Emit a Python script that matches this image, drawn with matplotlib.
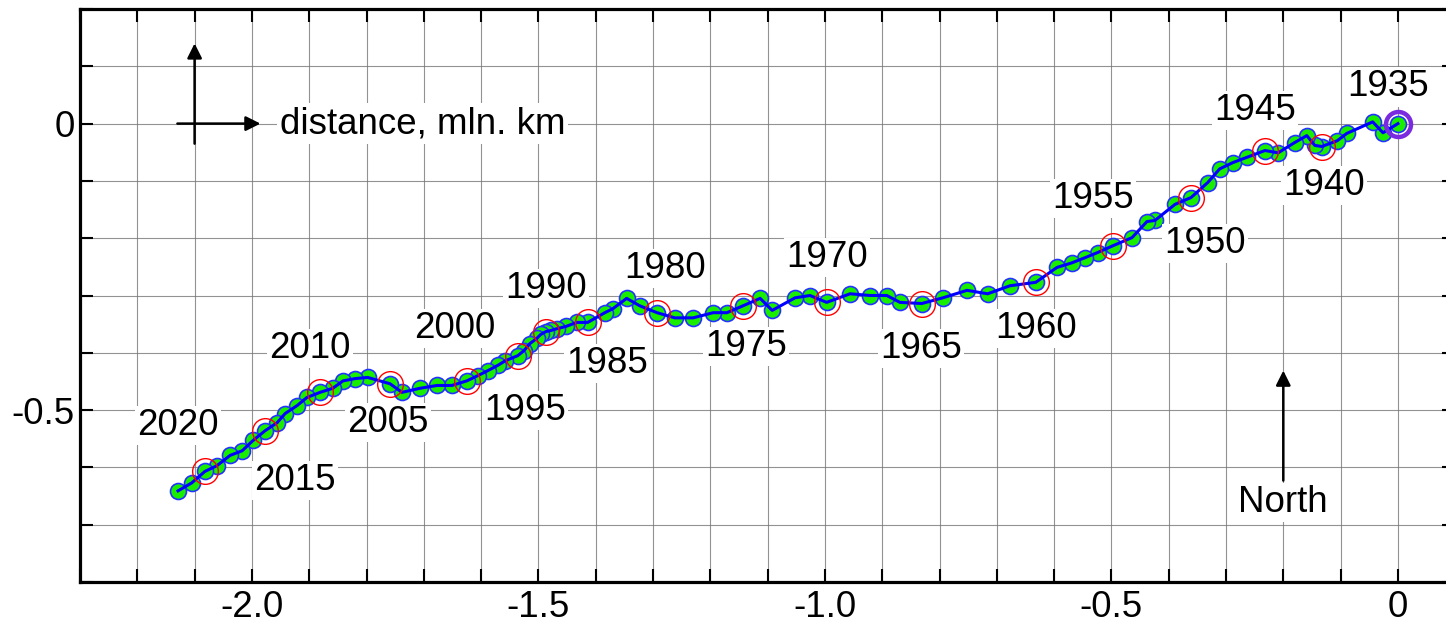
import matplotlib
matplotlib.use("Agg")
import matplotlib.pyplot as plt
import numpy as np

plt.rcParams['font.family'] = ['Liberation Sans', 'DejaVu Sans']

############ data: yearly position, mln. km ############
years = list(range(1935, 2023))
xpos = [0.000, -0.026, -0.044, -0.089, -0.106,
        -0.133, -0.145, -0.159, -0.180, -0.209,
        -0.232, -0.264, -0.288, -0.311, -0.332,
        -0.361, -0.389, -0.424, -0.438, -0.464,
        -0.497, -0.524, -0.546, -0.569, -0.595,
        -0.632, -0.677, -0.716, -0.752, -0.794,
        -0.831, -0.869, -0.892, -0.921, -0.956,
        -0.997, -1.026, -1.052, -1.092, -1.113,
        -1.143, -1.171, -1.195, -1.230, -1.262,
        -1.293, -1.323, -1.346, -1.370, -1.384,
        -1.414, -1.433, -1.452, -1.468, -1.478,
        -1.487, -1.496, -1.503, -1.515, -1.525,
        -1.536, -1.558, -1.571, -1.588, -1.606,
        -1.625, -1.651, -1.677, -1.707, -1.738,
        -1.759, -1.798, -1.820, -1.841, -1.859,
        -1.881, -1.904, -1.921, -1.942, -1.956,
        -1.977, -1.998, -2.017, -2.038, -2.061,
        -2.082, -2.105, -2.129]
ypos = [0.000, -0.016, 0.003, -0.017, -0.030,
        -0.040, -0.038, -0.021, -0.033, -0.051,
        -0.047, -0.059, -0.068, -0.079, -0.103,
        -0.129, -0.141, -0.169, -0.171, -0.199,
        -0.213, -0.225, -0.234, -0.243, -0.251,
        -0.277, -0.283, -0.297, -0.291, -0.304,
        -0.314, -0.312, -0.300, -0.300, -0.297,
        -0.312, -0.300, -0.304, -0.326, -0.305,
        -0.318, -0.330, -0.330, -0.339, -0.339,
        -0.330, -0.318, -0.305, -0.323, -0.330,
        -0.347, -0.347, -0.354, -0.358, -0.361,
        -0.363, -0.368, -0.375, -0.384, -0.396,
        -0.405, -0.414, -0.422, -0.431, -0.440,
        -0.449, -0.457, -0.457, -0.462, -0.469,
        -0.454, -0.443, -0.445, -0.449, -0.462,
        -0.469, -0.478, -0.492, -0.506, -0.522,
        -0.536, -0.553, -0.571, -0.579, -0.597,
        -0.607, -0.627, -0.641]

# year labels and where they sit
label_years = [1935, 1940, 1945, 1950, 1955, 1960, 1965, 1970, 1975,
               1980, 1985, 1990, 1995, 2000, 2005, 2010, 2015, 2020]
label_x = [-0.017, -0.129, -0.250, -0.337, -0.532, -0.632, -0.832, -0.997, -1.138,
           -1.279, -1.380, -1.487, -1.524, -1.646, -1.763, -1.899, -1.925, -2.129]
label_y = [0.064, -0.108, 0.023, -0.209, -0.131, -0.358, -0.393, -0.234, -0.389,
           -0.253, -0.419, -0.288, -0.501, -0.358, -0.522, -0.393, -0.623, -0.527]

xpos = np.array(xpos)
ypos = np.array(ypos)

fig = plt.figure(figsize=(14.46, 6.27), dpi=100)
ax = fig.add_axes([80 / 1446, 45 / 627, 2.4 * 573 / 1446, 573 / 627])
ax.set_xlim(-2.3, 0.1)
ax.set_ylim(-0.8, 0.2)

################# grid / ticks ##################
ax.set_xticks(np.arange(-2.3, 0.101, 0.1))
ax.set_yticks(np.arange(-0.8, 0.201, 0.1))


def fmt(v, pos):
    if abs(v * 2 - round(v * 2)) > 1e-6:
        return ''
    if abs(v) < 1e-6:
        return '0'
    return '%.1f' % v


ax.xaxis.set_major_formatter(matplotlib.ticker.FuncFormatter(fmt))
ax.yaxis.set_major_formatter(matplotlib.ticker.FuncFormatter(fmt))
ax.tick_params(direction='in', length=9.5, width=1.5, labelsize=26.5,
               top=True, right=True, colors='black')
ax.tick_params(axis='x', pad=6)
ax.tick_params(axis='y', pad=4)
ax.grid(True, color='#777777', lw=0.8, alpha=0.8)
ax.set_axisbelow(True)
for s in ax.spines.values():
    s.set_linewidth(2.3)

################# track ##################
ax.plot(xpos, ypos, 'o', ms=11.5, mfc='#1aee00', mec='#2233ff', mew=1.2, zorder=3)
ax.plot(xpos, ypos, '-', color='#0000ff', lw=2.2, zorder=4)
sel = [years.index(y) for y in label_years[1:]]
ax.plot(xpos[sel], ypos[sel], 'o', ms=18.5, mfc='none', mec='red', mew=1.0, zorder=5)
ax.plot(xpos[0], ypos[0], 'o', ms=18, mfc='none', mec='#7a2be0', mew=3.2, zorder=6)

for yr, lx, ly in zip(label_years, label_x, label_y):
    ax.text(lx, ly, str(yr), fontsize=26.5, ha='center', va='center', zorder=7,
            bbox=dict(facecolor='white', edgecolor='none', pad=1.5))

################# arrows / legend text ##################
arr = dict(arrowstyle='-|>', color='black', lw=1.8, mutation_scale=22, shrinkA=0, shrinkB=0)
ax.annotate('', xy=(-2.1, 0.14), xytext=(-2.1, -0.035), arrowprops=arr, zorder=7)
ax.annotate('', xy=(-1.985, 0.0), xytext=(-2.13, 0.0), arrowprops=arr, zorder=7)
ax.text(-1.951, 0.0, 'distance, mln. km', fontsize=26.5, ha='left', va='center', zorder=7,
        bbox=dict(facecolor='white', edgecolor='none', pad=2))

ax.annotate('', xy=(-0.2, -0.431), xytext=(-0.2, -0.623), arrowprops=arr, zorder=7)
ax.text(-0.2, -0.661, 'North', fontsize=26.5, ha='center', va='center', zorder=7,
        bbox=dict(facecolor='white', edgecolor='none', pad=1.5))

fig.savefig('out.png', dpi=100)
